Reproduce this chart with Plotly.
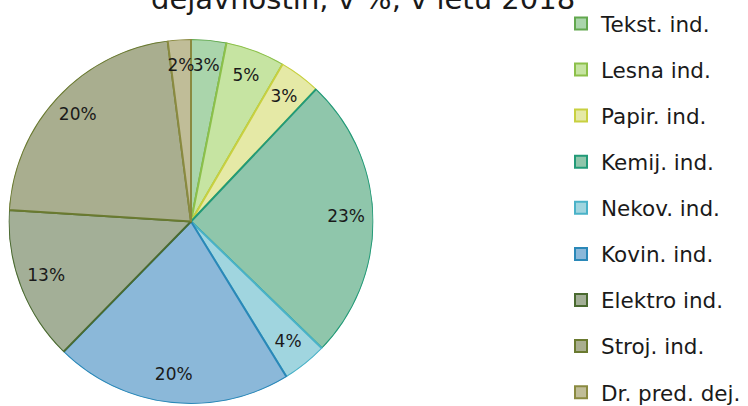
import plotly.graph_objects as go

categories = ["Tekst. ind.", "Lesna ind.", "Papir. ind.", "Kemij. ind.", "Nekov. ind.",
              "Kovin. ind.", "Elektro ind.", "Stroj. ind.", "Dr. pred. dej."]
values = [2.9, 4.9, 3.4, 23.4, 3.7, 19.6, 12.7, 20.4, 1.9]
fill_colors = ["#aad5ab", "#c6e4a2", "#e5e9a6", "#8fc6ab", "#a0d5df",
               "#8bb8d9", "#a3af97", "#a9ae8f", "#c0bd98"]
line_colors = ["#62a84e", "#8cc04a", "#c8d040", "#229a78", "#4ab2c8",
               "#2a88b8", "#4a6a30", "#6a7a30", "#8a8a40"]
title_text = "dejavnostih, v %, v letu 2018"

W, H = 748, 406
FONT = "DejaVu Sans"
DOMAIN = dict(x=[8.5 / W, 373.5 / W], y=[1 - 404 / H, 1 - 39 / H])
LABEL_R = 0.85
SPLIT = 5  # legend entries split over two legend boxes (avoids legend scrollbar)

# slice widths and mid-angles (clockwise from 12 o'clock), derived from the values
total = sum(values)
widths = [v / total * 360 for v in values]
mid_angles = []
acc = 0.0
for w in widths:
    mid_angles.append(acc + w / 2)
    acc += w

fig = go.Figure()
for i, (c, f, l) in enumerate(zip(categories, fill_colors, line_colors)):
    fig.add_trace(go.Barpolar(
        r=[1], theta=[mid_angles[i]], width=[widths[i]], base=0, name=c,
        legendgroup=f"g{i}", legend="legend" if i < SPLIT else "legend2",
        marker=dict(color=f, line=dict(color=l, width=2)),
        hovertemplate=f"{c}: {values[i]}%<extra></extra>",
    ))

fig.add_trace(go.Scatterpolar(
    r=[LABEL_R] * len(values), theta=mid_angles, mode="text",
    text=[f"{v:.0f}%" for v in values],
    textfont=dict(family=FONT, size=17, color="#1a1a1a"),
    showlegend=False, hoverinfo="skip",
))

legend_style = dict(x=561 / W, xanchor="left", yanchor="top",
                    font=dict(family=FONT, size=21.5, color="#1a1a1a"),
                    tracegroupgap=15.1, bgcolor="rgba(0,0,0,0)")

fig.update_layout(
    width=W, height=H,
    margin=dict(l=0, r=0, t=0, b=0, autoexpand=False),
    paper_bgcolor="white",
    polar=dict(
        domain=DOMAIN, bgcolor="rgba(0,0,0,0)", bargap=0,
        radialaxis=dict(range=[0, 1], visible=False, showgrid=False),
        angularaxis=dict(rotation=90, direction="clockwise", visible=False, showgrid=False),
    ),
    showlegend=True,
    legend=dict(y=1 - 3 / H, **legend_style),
    legend2=dict(y=1 - (3 + SPLIT * 46.1) / H, **legend_style),
    annotations=[dict(text=title_text, x=363 / W, xref="paper", xanchor="center",
                      y=1, yref="paper", yanchor="middle", yshift=1, showarrow=False,
                      font=dict(family=FONT, size=29, color="#1a1a1a"))],
)

fig.write_html(
    "out.html", config={"displayModeBar": False},
    post_script="document.body.style.margin='0';"
                "document.body.style.overflow='hidden';",
)
